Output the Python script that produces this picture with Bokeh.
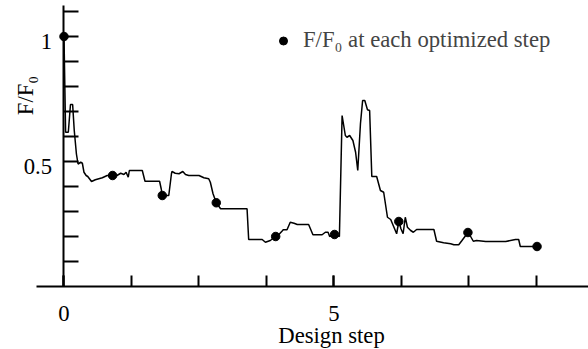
import math
from bokeh.plotting import figure
from bokeh.models import LinearAxis, FixedTicker, Range1d, Label, Legend, LegendItem
from bokeh.embed import file_html
from bokeh.resources import INLINE

# ---- data ----
step_x = [0.0, 0.03, 0.08, 0.12, 0.16, 0.19, 0.23, 0.26, 0.31, 0.34, 0.37, 0.41, 0.44,
          0.51, 0.58, 0.71, 0.80, 0.90, 0.98, 1.05, 1.11, 1.15, 1.19, 1.21, 1.45, 1.50,
          1.77, 1.80, 1.82, 1.94, 1.99, 2.00, 2.06, 2.13, 2.20, 2.25, 2.31, 2.50, 2.59,
          2.68, 2.71, 2.76, 2.82, 2.90, 3.39, 3.42, 3.67, 3.73, 3.82, 3.92, 3.98, 4.04,
          4.06, 4.13, 4.19, 4.26, 4.32, 4.53, 4.61, 4.78, 4.84, 4.89, 4.92, 5.01, 5.10,
          5.15, 5.21, 5.24, 5.29, 5.35, 5.40, 5.44, 5.49, 5.53, 5.57, 5.62, 5.66, 5.70,
          5.79, 5.86, 5.92, 5.99, 6.05, 6.11, 6.16, 6.20, 6.24, 6.28, 6.32, 6.36, 6.42,
          6.47, 6.53, 6.85, 6.90, 7.03, 7.16, 7.22, 7.31, 7.37, 7.48, 7.53, 7.58, 7.64,
          7.81, 8.18, 8.36, 8.42, 8.45, 8.76]
ratio_y = [1.0, 0.617, 0.617, 0.728, 0.728, 0.624, 0.53, 0.49, 0.497, 0.493, 0.457, 0.444, 0.44,
           0.42, 0.427, 0.435, 0.444, 0.444, 0.444, 0.453, 0.448, 0.457, 0.437, 0.464, 0.464, 0.421,
           0.421, 0.391, 0.364, 0.364, 0.451, 0.46, 0.453, 0.451, 0.46, 0.448, 0.444, 0.444, 0.435,
           0.431, 0.417, 0.371, 0.335, 0.311, 0.311, 0.188, 0.188, 0.177, 0.184, 0.2, 0.208, 0.222,
           0.227, 0.227, 0.257, 0.253, 0.248, 0.248, 0.207, 0.207, 0.217, 0.217, 0.2, 0.208, 0.2,
           0.684, 0.604, 0.597, 0.604, 0.584, 0.537, 0.464, 0.651, 0.744, 0.744, 0.707, 0.704, 0.44,
           0.44, 0.384, 0.377, 0.277, 0.268, 0.237, 0.211, 0.26, 0.231, 0.211, 0.277, 0.237, 0.224,
           0.217, 0.228, 0.228, 0.181, 0.175, 0.171, 0.167, 0.167, 0.184, 0.216, 0.2, 0.181, 0.184,
           0.18, 0.18, 0.188, 0.188, 0.16, 0.16]

opt_x = [0.0, 0.90, 1.82, 2.82, 3.92, 5.01, 6.20, 7.48, 8.76]
opt_y = [1.0, 0.444, 0.364, 0.335, 0.2, 0.208, 0.26, 0.216, 0.16]

x_ticks = [0, 1.25, 2.5, 3.75, 5, 6.25, 7.5, 8.75]
x_label_ticks = [0, 5]
y_ticks = [0.1, 0.2, 0.3, 0.4, 0.5, 0.6, 0.7, 0.8, 0.9, 1.0, 1.1]
y_label_ticks = [0.5, 1.0]
y_label_texts = ["0.5", "1"]

legend_text = "F/F\u2080 at each optimized step"
y_title = "F/F\u2080"
x_title = "Design step"

FONT = "Liberation Serif"
FS = "22.7px"

X0, X1 = -1.1759, 9.7130
Y0, Y1 = -0.252, 1.144

p = figure(width=588, height=349,
           x_range=Range1d(X0, X1), y_range=Range1d(Y0, Y1),
           x_axis_type=None, y_axis_type=None,
           toolbar_location=None, output_backend="svg",
           min_border=0, min_border_left=0, min_border_right=0,
           min_border_top=0, min_border_bottom=0)
p.outline_line_color = None
p.background_fill_color = "white"
p.border_fill_color = "white"

# x axis at y = 0
xa = LinearAxis(fixed_location=0, bounds=(-0.509, X1),
                ticker=FixedTicker(ticks=x_label_ticks, minor_ticks=x_ticks))
xa.axis_line_width = 2
xa.axis_line_color = "black"
xa.major_tick_in = 11
xa.major_tick_out = 0
xa.minor_tick_in = 11
xa.minor_tick_out = 0
xa.major_tick_line_width = 2
xa.minor_tick_line_width = 2
xa.major_tick_line_color = "black"
xa.minor_tick_line_color = "black"
xa.major_label_text_font = FONT
xa.major_label_text_font_size = FS
xa.major_label_text_color = "black"
xa.major_label_standoff = 19
p.add_layout(xa, "below")

# y axis (line + ticks) at x = 0
ya = LinearAxis(fixed_location=0, bounds=(0, 1.124), ticker=FixedTicker(ticks=y_ticks))
ya.axis_line_width = 2
ya.axis_line_color = "black"
ya.major_tick_in = 15
ya.major_tick_out = 0
ya.major_tick_line_width = 2
ya.major_tick_line_color = "black"
ya.minor_tick_line_color = None
ya.major_label_text_color = None
p.add_layout(ya, "left")

# y axis labels (slightly lowered like the reference)
label_pos = [t - 0.02 for t in y_label_ticks]
yl = LinearAxis(fixed_location=0, ticker=FixedTicker(ticks=label_pos))
yl.axis_line_color = None
yl.major_tick_line_color = None
yl.minor_tick_line_color = None
yl.major_tick_in = 0
yl.major_tick_out = 0
yl.major_label_overrides = {pos: txt for pos, txt in zip(label_pos, y_label_texts)}
yl.major_label_text_font = FONT
yl.major_label_text_font_size = FS
yl.major_label_text_color = "black"
yl.major_label_standoff = 12
p.add_layout(yl, "left")

p.line(step_x, ratio_y, line_color="black", line_width=1.5)
r = p.scatter(opt_x, opt_y, size=8.5, color="black")

legend = Legend(items=[LegendItem(label=legend_text, renderers=[r])],
                location=(273, 296), padding=0, margin=0, spacing=0,
                glyph_width=20, glyph_height=25, label_standoff=10,
                label_text_font=FONT, label_text_font_size=FS,
                border_line_color=None, background_fill_alpha=0)
p.add_layout(legend)

p.add_layout(Label(x=-0.713, y=0.764, text=y_title, angle=math.pi / 2,
                   text_align="center", text_baseline="middle",
                   text_font=FONT, text_font_size=FS, text_color="black"))
p.add_layout(Label(x=4.954, y=-0.194, text=x_title,
                   text_align="center", text_baseline="middle",
                   text_font=FONT, text_font_size=FS, text_color="black"))

open("out.html", "w").write(file_html(p, INLINE))
